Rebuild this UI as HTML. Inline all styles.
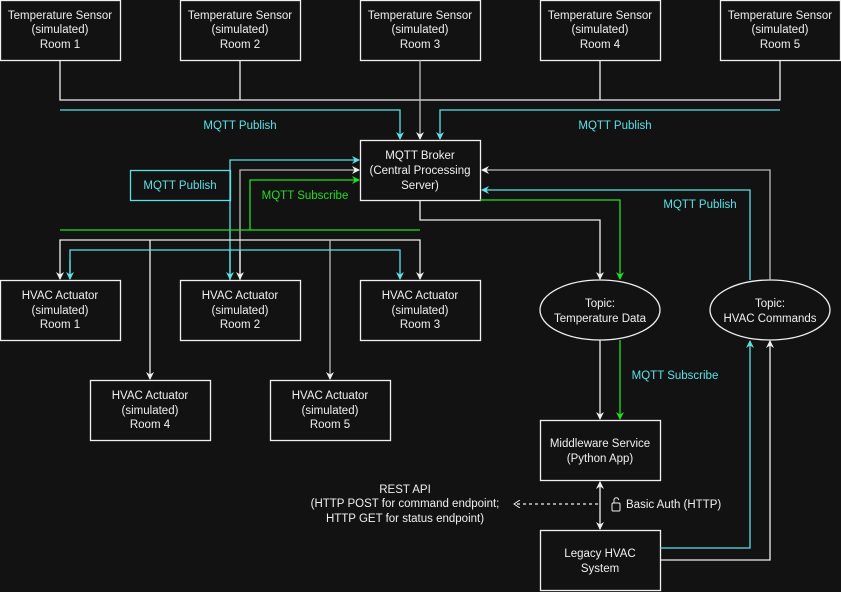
<!DOCTYPE html>
<html><head><style>
html,body{margin:0;padding:0;background:#121212;}
svg{display:block;font-family:"Liberation Sans",Arial,sans-serif;}
text{font-size:11.5px;fill:#f0f0f0;text-anchor:middle;}
.c{fill:#5ce1e6}.g{fill:#22dd22}
</style></head><body>
<svg width="841" height="592" viewBox="0 0 841 592" xmlns="http://www.w3.org/2000/svg">
<defs>
<marker id="aw" markerWidth="8" markerHeight="8" refX="7" refY="4" orient="auto" markerUnits="userSpaceOnUse"><path d="M0,0 L8,4 L0,8 L2.5,4 Z" fill="#f0f0f0"/></marker>
<marker id="ac" markerWidth="8" markerHeight="8" refX="7" refY="4" orient="auto" markerUnits="userSpaceOnUse"><path d="M0,0 L8,4 L0,8 L2.5,4 Z" fill="#5ce1e6"/></marker>
<marker id="ag" markerWidth="8" markerHeight="8" refX="7" refY="4" orient="auto" markerUnits="userSpaceOnUse"><path d="M0,0 L8,4 L0,8 L2.5,4 Z" fill="#22dd22"/></marker>
<marker id="ao" markerWidth="8" markerHeight="8" refX="7" refY="4" orient="auto" markerUnits="userSpaceOnUse"><path d="M1,0 L7,4 L1,8" fill="none" stroke="#f0f0f0"/></marker>
<marker id="aws" markerWidth="8" markerHeight="8" refX="1" refY="4" orient="auto" markerUnits="userSpaceOnUse"><path d="M8,0 L0,4 L8,8 L5.5,4 Z" fill="#f0f0f0"/></marker>
</defs>
<g fill="none" stroke="#f0f0f0" stroke-width="1.3">
<rect x="0.5" y="0.5" width="120" height="60"/><rect x="180.5" y="0.5" width="120" height="60"/><rect x="360.5" y="0.5" width="120" height="60"/><rect x="540.5" y="0.5" width="120" height="60"/><rect x="720.5" y="0.5" width="120" height="60"/>
<polyline points="60,60 60,100 780,100 780,60"/>
<line x1="240" y1="60" x2="240" y2="100"/><line x1="600" y1="60" x2="600" y2="100"/>
<line x1="420" y1="60" x2="420" y2="139" stroke="#bbb" marker-end="url(#aw)"/>
<polyline points="60,110 400,110 400,139" stroke="#5ce1e6" marker-end="url(#ac)"/>
<polyline points="780,110 440,110 440,139" stroke="#5ce1e6" marker-end="url(#ac)"/>
<rect x="360.5" y="140.5" width="120" height="60"/>
<rect x="130.5" y="170.5" width="100" height="30" stroke="#5ce1e6"/>
<polyline points="230,280 230,160 359,160" stroke="#5ce1e6" marker-end="url(#ac)"/>
<polyline points="240,280 240,170 359,170" stroke="#bbb" marker-end="url(#aw)"/>
<polyline points="250,230 250,180 359,180" stroke="#22dd22" marker-end="url(#ag)"/>
<line x1="60" y1="230" x2="420" y2="230" stroke="#22dd22"/>
<line x1="230" y1="250" x2="230" y2="279" stroke="#5ce1e6" marker-end="url(#ac)"/>
<line x1="240" y1="250" x2="240" y2="279" stroke="#f0f0f0" marker-end="url(#aw)"/>
<polyline points="60,279 60,240 420,240 420,279" marker-start="url(#aws)" marker-end="url(#aw)"/>
<line x1="150" y1="240" x2="150" y2="379" marker-end="url(#aw)"/>
<line x1="330" y1="240" x2="330" y2="379" stroke="#bbb" marker-end="url(#aw)"/>
<polyline points="70,279 70,250 400,250 400,279" stroke="#5ce1e6" marker-end="url(#ac)"/>
<line x1="70" y1="260" x2="70" y2="279" stroke="#5ce1e6" marker-end="url(#ac)"/>
<rect x="0.5" y="280.5" width="120" height="60"/><rect x="180.5" y="280.5" width="120" height="60"/><rect x="360.5" y="280.5" width="120" height="60"/>
<rect x="90.5" y="380.5" width="120" height="60"/><rect x="270.5" y="380.5" width="120" height="60"/>
<polyline points="420,200 420,220 600,220 600,279" marker-end="url(#aw)"/>
<polyline points="480,200 620,200 620,279" stroke="#22dd22" marker-end="url(#ag)"/>
<ellipse cx="600" cy="310" rx="60" ry="30"/>
<ellipse cx="770" cy="310" rx="60" ry="30"/>
<polyline points="770,280 770,170 482,170" stroke="#bbb" marker-end="url(#aw)"/>
<polyline points="750,280 750,190 482,190" stroke="#5ce1e6" marker-end="url(#ac)"/>
<line x1="600" y1="340" x2="600" y2="419" marker-end="url(#aw)"/>
<line x1="620" y1="340" x2="620" y2="419" stroke="#22dd22" marker-end="url(#ag)"/>
<rect x="540.5" y="420.5" width="120" height="60"/>
<rect x="540.5" y="530.5" width="120" height="60"/>
<line x1="600" y1="482" x2="600" y2="529" marker-start="url(#aws)" marker-end="url(#aw)"/>
<line x1="598" y1="504" x2="514" y2="504" stroke-dasharray="3,3" marker-end="url(#ao)"/>
<polyline points="660,548 750,548 750,341" stroke="#5ce1e6" marker-end="url(#ac)"/>
<polyline points="660,560 770,560 770,341" marker-end="url(#aw)"/>
<rect x="612" y="503" width="8" height="8" rx="1" stroke-width="1"/>
<path d="M614,503 v-3 a2.3,2.3 0 0 1 4.6,0" stroke-width="1"/>
</g>
<text x="60" y="19">Temperature Sensor</text><text x="60" y="33">(simulated)</text><text x="60" y="48">Room 1</text>
<text x="240" y="19">Temperature Sensor</text><text x="240" y="33">(simulated)</text><text x="240" y="48">Room 2</text>
<text x="420" y="19">Temperature Sensor</text><text x="420" y="33">(simulated)</text><text x="420" y="48">Room 3</text>
<text x="600" y="19">Temperature Sensor</text><text x="600" y="33">(simulated)</text><text x="600" y="48">Room 4</text>
<text x="780" y="19">Temperature Sensor</text><text x="780" y="33">(simulated)</text><text x="780" y="48">Room 5</text>
<text x="240" y="129" class="c">MQTT Publish</text>
<text x="615" y="129" class="c">MQTT Publish</text>
<text x="420" y="159">MQTT Broker</text><text x="420" y="174">(Central Processing</text><text x="420" y="189">Server)</text>
<text x="180" y="189" class="c">MQTT Publish</text>
<text x="305" y="199" class="g">MQTT Subscribe</text>
<text x="700" y="208" class="c">MQTT Publish</text>
<text x="60" y="299">HVAC Actuator</text><text x="60" y="314">(simulated)</text><text x="60" y="328">Room 1</text>
<text x="240" y="299">HVAC Actuator</text><text x="240" y="314">(simulated)</text><text x="240" y="328">Room 2</text>
<text x="420" y="299">HVAC Actuator</text><text x="420" y="314">(simulated)</text><text x="420" y="328">Room 3</text>
<text x="150" y="399">HVAC Actuator</text><text x="150" y="414">(simulated)</text><text x="150" y="428">Room 4</text>
<text x="330" y="399">HVAC Actuator</text><text x="330" y="414">(simulated)</text><text x="330" y="428">Room 5</text>
<text x="600" y="307">Topic:</text><text x="600" y="322">Temperature Data</text>
<text x="770" y="307">Topic:</text><text x="770" y="322">HVAC Commands</text>
<text x="675" y="379" class="c">MQTT Subscribe</text>
<text x="600" y="447">Middleware Service</text><text x="600" y="462">(Python App)</text>
<text x="405" y="493">REST API</text><text x="405" y="507">(HTTP POST for command endpoint;</text><text x="405" y="522">HTTP GET for status endpoint)</text>
<text x="626" y="508" style="text-anchor:start">Basic Auth (HTTP)</text>
<text x="600" y="557">Legacy HVAC</text><text x="600" y="572">System</text>
</svg>
</body></html>
